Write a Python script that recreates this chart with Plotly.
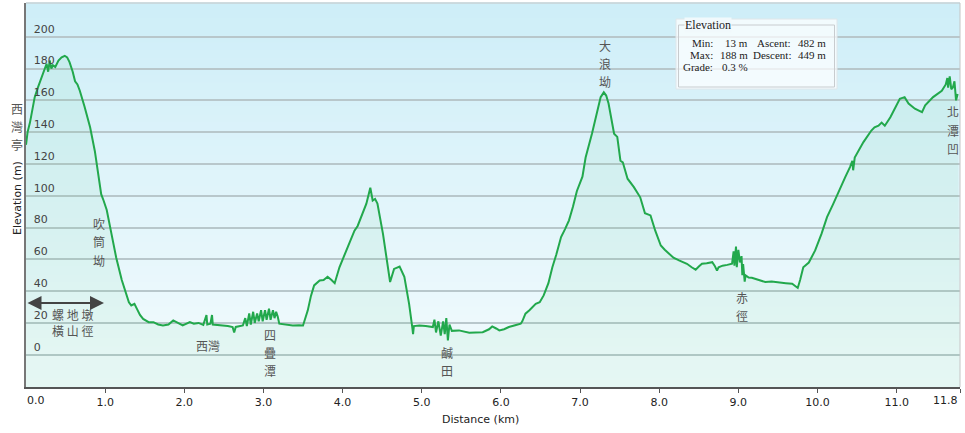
import plotly.graph_objects as go

# elevation profile
distance_km = [
    0.00, 0.02, 0.05, 0.08, 0.11, 0.15, 0.18, 0.21, 0.24, 0.26, 0.28, 0.30, 0.32, 0.34, 0.37,
    0.41, 0.45, 0.49, 0.52, 0.55, 0.59, 0.62, 0.65, 0.68, 0.74, 0.81, 0.87, 0.91, 0.95, 0.98,
    1.02, 1.08, 1.14, 1.21, 1.27, 1.30, 1.33, 1.37, 1.40, 1.44, 1.48, 1.55, 1.61, 1.67, 1.73,
    1.80, 1.86, 1.92, 1.98, 2.07, 2.12, 2.18, 2.24, 2.28, 2.29, 2.33, 2.35, 2.36, 2.42, 2.49,
    2.55, 2.61, 2.63, 2.65, 2.70, 2.74, 2.77, 2.79, 2.82, 2.84, 2.87, 2.89, 2.92, 2.94, 2.97,
    2.99, 3.02, 3.04, 3.07, 3.09, 3.12, 3.14, 3.16, 3.18, 3.20, 3.28, 3.37, 3.45, 3.50, 3.56,
    3.60, 3.64, 3.71, 3.76, 3.81, 3.86, 3.90, 3.96, 4.02, 4.09, 4.15, 4.19, 4.23, 4.30, 4.35,
    4.38, 4.41, 4.44, 4.51, 4.55, 4.60, 4.65, 4.72, 4.78, 4.84, 4.88, 4.89, 4.90, 4.97, 5.05,
    5.14, 5.16, 5.18, 5.21, 5.24, 5.27, 5.29, 5.31, 5.33, 5.35, 5.38, 5.47, 5.53, 5.60, 5.68,
    5.77, 5.85, 5.89, 5.94, 5.98, 6.04, 6.10, 6.18, 6.25, 6.27, 6.31, 6.36, 6.40, 6.44, 6.49,
    6.54, 6.60, 6.65, 6.70, 6.76, 6.81, 6.86, 6.91, 6.96, 7.03, 7.07, 7.15, 7.22, 7.26, 7.30,
    7.33, 7.36, 7.43, 7.47, 7.51, 7.54, 7.60, 7.68, 7.76, 7.82, 7.89, 7.95, 8.02, 8.07, 8.12,
    8.18, 8.25, 8.30, 8.35, 8.41, 8.46, 8.50, 8.54, 8.60, 8.67, 8.70, 8.73, 8.75, 8.80, 8.86,
    8.92, 8.94, 8.95, 8.97, 8.98, 9.00, 9.02, 9.04, 9.05, 9.06, 9.08, 9.09, 9.13, 9.17, 9.25,
    9.34, 9.42, 9.51, 9.60, 9.68, 9.75, 9.78, 9.80, 9.82, 9.89, 9.97, 10.05, 10.12, 10.20, 10.26,
    10.35, 10.41, 10.44, 10.45, 10.47, 10.58, 10.68, 10.72, 10.77, 10.81, 10.85, 10.92, 10.98, 11.04, 11.10,
    11.15, 11.23, 11.32, 11.36, 11.46, 11.57, 11.62, 11.64, 11.65, 11.67, 11.69, 11.71, 11.73, 11.75, 11.77,
]
elevation_m = [
    132, 140, 146, 155, 162, 168, 172, 176, 179, 183, 178, 185, 180, 182, 181,
    185, 187, 188, 187, 184, 178, 172, 170, 166, 156, 143, 128, 114, 101, 97,
    91, 76, 61, 47, 38, 33, 31, 32, 29, 25, 22.5, 20.5, 20.5, 19, 18.4,
    19, 21.6, 20, 18.4, 20.5, 19.5, 20, 18.8, 25, 19, 19.5, 25, 19, 18.8, 18.4,
    18, 17.4, 14, 17.5, 18, 18.4, 23, 18, 26, 19, 27, 20, 26, 21, 28,
    21, 28, 22, 29, 22, 28, 23, 27, 24, 19.5, 19, 18.4, 18.6, 18.4, 27.9,
    37, 43.6, 46.7, 47, 49, 47, 45, 55, 62.5, 70, 78, 81, 86.5, 95, 105,
    97, 98, 95, 76, 61, 45.7, 54, 55.5, 49, 32, 17.4, 13, 18, 18.4, 18,
    17.4, 22, 14, 21, 12, 21, 13, 23, 9, 19, 15, 15.3, 14.5, 13.8, 14,
    14.2, 16, 17.8, 16.5, 15.3, 16, 17.4, 18.5, 19.5, 21, 25.8, 28, 30, 32, 33,
    37.3, 45, 55, 63, 74, 79, 84.5, 93, 103, 112, 124, 139, 153.6, 162, 165,
    163, 158, 139, 137, 122, 121, 110.7, 105.4, 99, 89, 87.6, 78, 68.7, 66, 63.5,
    61, 59.3, 58, 57.2, 55, 53.5, 55.5, 57.2, 57.5, 58.2, 56, 53, 55, 56, 56.5,
    57.2, 65, 56, 68, 55, 66, 58, 62, 50, 57, 46, 50, 48.5, 48.4, 47,
    45.7, 46, 45.7, 45, 44.6, 42, 47, 52, 55, 58, 65.6, 76, 86.5, 95, 102,
    111.7, 118, 122, 116, 124, 133.7, 141, 143, 144, 146, 144, 149.4, 155.7, 161, 162,
    158, 154.7, 152.6, 156.8, 162, 166, 170, 174, 168, 175, 167, 168, 172, 160, 164,
]

x_ticks = [0, 1, 2, 3, 4, 5, 6, 7, 8, 9, 10, 11, 11.8]
x_ticktext = ["", "1.0", "2.0", "3.0", "4.0", "5.0", "6.0", "7.0", "8.0", "9.0", "10.0", "11.0", ""]
y_ticks = [0, 20, 40, 60, 80, 100, 120, 140, 160, 180, 200]

# place names, written top to bottom (characters stacked)
place_names = ["西灣亭", "吹筒坳", "四疊潭", "鹹田", "大浪坳", "赤徑", "北潭凹"]
place_xy = [(17, 108), (99, 224), (270, 334), (447, 352), (605, 45), (742, 297), (953, 112)]

stats_labels = ["Min:", "Max:", "Grade:"]
stats_values = ["13 m", "188 m", "0.3 %"]
climb_labels = ["Ascent:", "Descent:"]
climb_values = ["482 m", "449 m"]

W, H = 965, 433
L, R, T, B = 26, 960, 3, 387
Y_MIN, Y_MAX = -20.3, 221.2


def px(x):
    return (x - L) / (R - L)


def py(y):
    return (B - y) / (B - T)


def label(text, x, y, font, xanchor="center", **kw):
    return dict(text=text, x=px(x), y=py(y), xref="paper", yref="paper", showarrow=False,
                xanchor=xanchor, yanchor="middle", font=font, **kw)


fig = go.Figure()

# invisible baseline so the fill reaches the bottom of the plot
fig.add_trace(go.Scatter(x=[0, 11.8], y=[Y_MIN, Y_MIN], mode="lines",
                         line=dict(width=0), hoverinfo="skip", showlegend=False))
fig.add_trace(go.Scatter(x=distance_km, y=elevation_m, mode="lines",
                         line=dict(color="#22a84c", width=2),
                         fill="tonexty", fillcolor="rgba(60,205,120,0.07)",
                         showlegend=False))

# background gradient
shapes = []
n = 48
top_c, bot_c = (206, 238, 248), (243, 251, 253)
for i in range(n):
    t = i / (n - 1)
    c = tuple(round(top_c[k] + (bot_c[k] - top_c[k]) * t) for k in range(3))
    shapes.append(dict(type="rect", xref="paper", yref="paper", layer="below",
                       x0=0, x1=1, y0=1 - (i + 1) / n, y1=1 - i / n + 0.002,
                       fillcolor="rgb(%d,%d,%d)" % c, line=dict(width=0)))
# frame
shapes.append(dict(type="line", xref="paper", yref="paper", x0=0, x1=1, y0=1, y1=1,
                   line=dict(color="#c4c4c4", width=1)))
shapes.append(dict(type="line", xref="paper", yref="paper", x0=1, x1=1, y0=0, y1=1,
                   line=dict(color="#c4c4c4", width=1)))
# stats box
shapes.append(dict(type="rect", xref="paper", yref="paper", x0=px(676), x1=px(837),
                   y0=py(89), y1=py(19), fillcolor="rgba(255,255,255,0.72)",
                   line=dict(color="#dfe6ea", width=1)))
shapes.append(dict(type="rect", xref="paper", yref="paper", x0=px(678.5), x1=px(834.5),
                   y0=py(87), y1=py(25), line=dict(color="#c8cccf", width=1)))

cjk = dict(family="Noto Sans CJK TC", size=12, color="#555")
annotations = []
for name, (x0, y0) in zip(place_names, place_xy):
    for k, ch in enumerate(name):
        annotations.append(label(ch, x0, y0 + k * 18, cjk))
annotations.append(label("西灣", 208, 345, cjk))
annotations.append(label("螺 地 墩<br>橫 山 徑", 72, 322, cjk))
# double arrow
annotations.append(dict(text="", x=px(104), y=py(303), xref="paper", yref="paper",
                        ax=-78, ay=0, axref="pixel", ayref="pixel", showarrow=True,
                        arrowhead=2, arrowside="end+start", arrowsize=1.4, arrowwidth=2,
                        arrowcolor="#444"))

serif = dict(family="Liberation Serif", size=11, color="#222")
annotations.append(label("Elevation", 684, 25, dict(serif, size=12), xanchor="left",
                         bgcolor="rgb(241,249,252)", borderpad=0))
for i, (lab, val) in enumerate(zip(stats_labels, stats_values)):
    annotations.append(label(lab, 715, 43 + i * 12, serif, xanchor="right"))
    annotations.append(label(val, 750, 43 + i * 12, serif, xanchor="right"))
for i, (lab, val) in enumerate(zip(climb_labels, climb_values)):
    annotations.append(label(lab, 793, 43 + i * 12, serif, xanchor="right"))
    annotations.append(label(val, 828, 43 + i * 12, serif, xanchor="right"))

axis_font = dict(family="DejaVu Sans", size=11, color="#222")
# first and last x tick labels, kept inside the figure
annotations.append(label("0.0", 36, 400, axis_font))
annotations.append(label("11.8", 945, 400, axis_font))
annotations.append(label("Elevation (m)", 17, 198, axis_font, textangle=-90))
annotations.append(label("Distance (km)", 480, 419, axis_font))

fig.update_layout(
    width=W, height=H,
    margin=dict(l=L, r=W - R, t=T, b=H - B),
    paper_bgcolor="white", plot_bgcolor="white",
    font=dict(family="DejaVu Sans", size=11, color="#222"),
    shapes=shapes, annotations=annotations,
    xaxis=dict(range=[0, 11.8], tickvals=x_ticks, ticktext=x_ticktext,
               ticks="outside", ticklen=4, tickwidth=1, tickcolor="#555",
               showgrid=False, zeroline=False, showline=True, linecolor="#555", linewidth=2,
               automargin=False),
    yaxis=dict(range=[Y_MIN, Y_MAX], tickvals=y_ticks, ticks="",
               ticklabelposition="inside", ticklabelstandoff=7, ticklabelshift=-8,
               showgrid=True, gridcolor="#b8c7cb", gridwidth=1.5, zeroline=False,
               showline=True, linecolor="#777", linewidth=2, automargin=False),
)

# the page should start at the window's corner, like the reference
fig.write_html("out.html", config={"displayModeBar": False},
               post_script="document.body.style.margin='0';")
